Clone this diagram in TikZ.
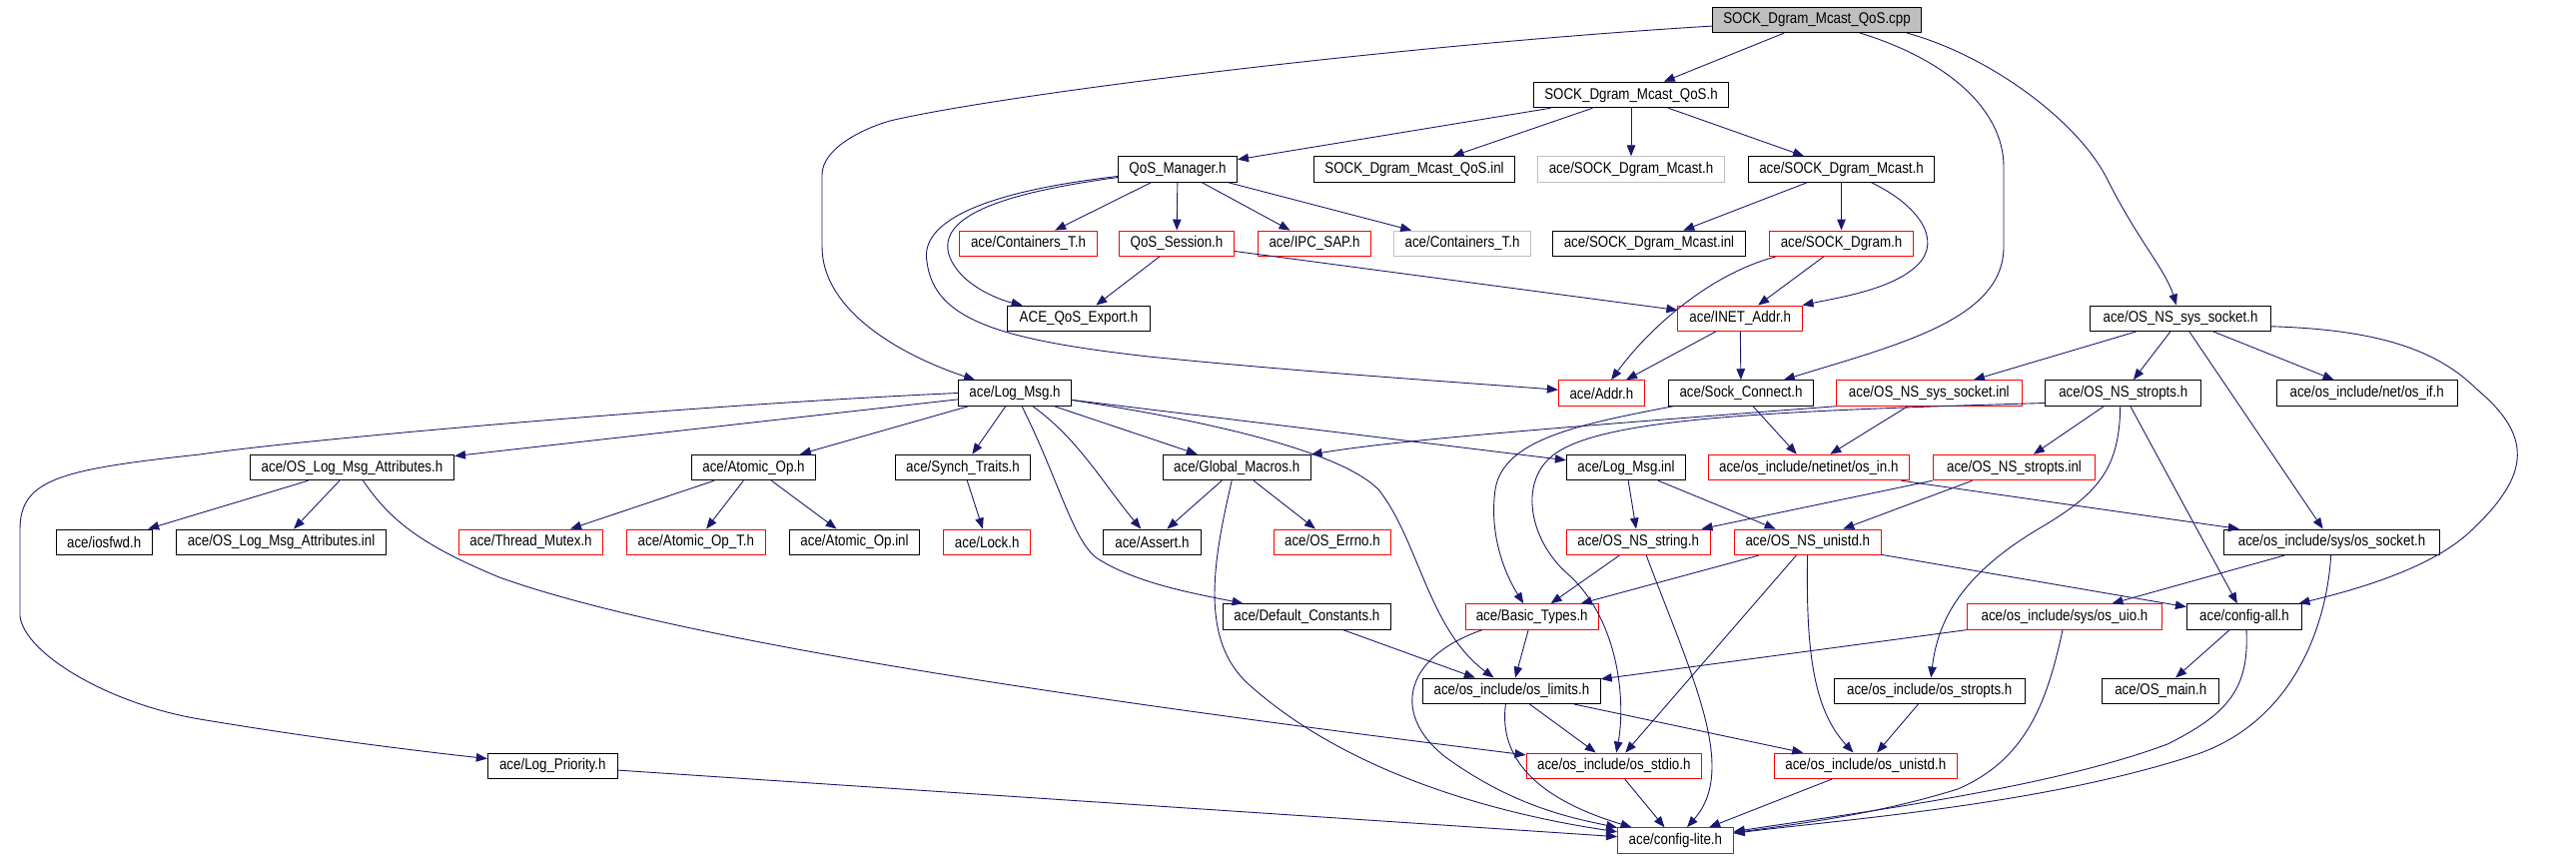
\documentclass[tikz,border=0pt]{standalone}
\usepackage{fontspec}
\setmainfont{Liberation Sans}[FakeStretch=0.86]
\usetikzlibrary{arrows.meta}
\definecolor{navy}{HTML}{191970}
\definecolor{lgray}{HTML}{BFBFBF}
\newcommand\nfont{\fontsize{15.5pt}{18pt}\selectfont}
\tikzset{
  nb/.style={draw=black, line width=1pt, minimum height=25.5pt, inner sep=0pt, font=\nfont},
  nr/.style={nb, draw=red},
  ng/.style={nb, draw=lgray},
  arr/.style={draw=navy, line width=0.9pt, -{Triangle[length=11pt,width=8.5pt]}},
}
\begin{document}
\begin{tikzpicture}[x=1pt,y=-1pt]
\useasboundingbox (0,0) rectangle (2579,859);
% row 0
\node[nb, fill=lgray, minimum width=209pt] (cpp) at (1819,19.8) {SOCK\_Dgram\_Mcast\_QoS.cpp};
% row 1
\node[nb, minimum width=195pt] (qosh) at (1633,95) {SOCK\_Dgram\_Mcast\_QoS.h};
% row 2
\node[nb, minimum width=119pt] (qosm) at (1179,169.5) {QoS\_Manager.h};
\node[nb, minimum width=201pt] (qosinl) at (1416,169.5) {SOCK\_Dgram\_Mcast\_QoS.inl};
\node[ng, minimum width=187pt] (dmg) at (1633,169.5) {ace/SOCK\_Dgram\_Mcast.h};
\node[nb, minimum width=186pt] (dm) at (1843.5,169.5) {ace/SOCK\_Dgram\_Mcast.h};
% row 3
\node[nr, minimum width=138.4pt] (contr) at (1029.5,243.8) {ace/Containers\_T.h};
\node[nr, minimum width=115pt] (sess) at (1178,243.8) {QoS\_Session.h};
\node[nr, minimum width=113pt] (ipc) at (1316,243.8) {ace/IPC\_SAP.h};
\node[ng, minimum width=137.5pt] (contg) at (1464,243.8) {ace/Containers\_T.h};
\node[nb, minimum width=192.4pt] (dminl) at (1651,243.8) {ace/SOCK\_Dgram\_Mcast.inl};
\node[nr, minimum width=144pt] (dgram) at (1843.5,243.8) {ace/SOCK\_Dgram.h};
% row 4
\node[nb, minimum width=143pt] (qexp) at (1080,318.8) {ACE\_QoS\_Export.h};
\node[nr, minimum width=124.6pt] (inet) at (1742.2,318.8) {ace/INET\_Addr.h};
\node[nb, minimum width=181.3pt] (nssock) at (2183,318.8) {ace/OS\_NS\_sys\_socket.h};
% row 5
\node[nb, minimum width=113pt] (logmsg) at (1016,393.5) {ace/Log\_Msg.h};
\node[nr, minimum width=86pt] (addr) at (1603.4,393.5) {ace/Addr.h};
\node[nb, minimum width=145.5pt] (sockc) at (1743,393.5) {ace/Sock\_Connect.h};
\node[nr, minimum width=185.7pt] (sockinl) at (1931.3,393.5) {ace/OS\_NS\_sys\_socket.inl};
\node[nb, minimum width=155.8pt] (nsstr) at (2125.7,393.5) {ace/OS\_NS\_stropts.h};
\node[nb, minimum width=181.3pt] (osif) at (2369.7,393.5) {ace/os\_include/net/os\_if.h};
% row 6
\node[nb, minimum width=204pt] (attr) at (352.5,468) {ace/OS\_Log\_Msg\_Attributes.h};
\node[nb, minimum width=124pt] (atomic) at (754.5,468) {ace/Atomic\_Op.h};
\node[nb, minimum width=135.3pt] (synch) at (964,468) {ace/Synch\_Traits.h};
\node[nb, minimum width=147.8pt] (glob) at (1238.2,468) {ace/Global\_Macros.h};
\node[nb, minimum width=119.2pt] (loginl) at (1628,468) {ace/Log\_Msg.inl};
\node[nr, minimum width=201pt] (osin) at (1810.8,468) {ace/os\_include/netinet/os\_in.h};
\node[nr, minimum width=161.6pt] (strinl) at (2016.5,468) {ace/OS\_NS\_stropts.inl};
% row 7
\node[nb, minimum width=96pt] (iosfwd) at (104.2,542.8) {ace/iosfwd.h};
\node[nb, minimum width=210.3pt] (attrinl) at (281.5,542.8) {ace/OS\_Log\_Msg\_Attributes.inl};
\node[nr, minimum width=144.2pt] (tmutex) at (531.5,542.8) {ace/Thread\_Mutex.h};
\node[nr, minimum width=139.3pt] (atomT) at (696.9,542.8) {ace/Atomic\_Op\_T.h};
\node[nb, minimum width=130pt] (atominl) at (855.5,542.8) {ace/Atomic\_Op.inl};
\node[nr, minimum width=87pt] (lock) at (988.2,542.8) {ace/Lock.h};
\node[nb, minimum width=97.8pt] (assert) at (1153.4,542.8) {ace/Assert.h};
\node[nr, minimum width=117pt] (errno) at (1333.9,542.8) {ace/OS\_Errno.h};
\node[nr, minimum width=143.8pt] (nsstring) at (1640.2,542.8) {ace/OS\_NS\_string.h};
\node[nr, minimum width=146.4pt] (nsunistd) at (1809.8,542.8) {ace/OS\_NS\_unistd.h};
\node[nb, minimum width=216.5pt] (ossocket) at (2334.6,542.8) {ace/os\_include/sys/os\_socket.h};
% row 8
\node[nb, minimum width=168pt] (defc) at (1308.4,617.5) {ace/Default\_Constants.h};
\node[nr, minimum width=132.6pt] (basic) at (1533.7,617.5) {ace/Basic\_Types.h};
\node[nr, minimum width=194.7pt] (uio) at (2067,617.5) {ace/os\_include/sys/os\_uio.h};
\node[nb, minimum width=115.2pt] (cfgall) at (2247,617.5) {ace/config-all.h};
% row 9
\node[nb, minimum width=177.6pt] (limits) at (1513.4,691.8) {ace/os\_include/os\_limits.h};
\node[nb, minimum width=191pt] (osstropts) at (1931.7,691.8) {ace/os\_include/os\_stropts.h};
\node[nb, minimum width=117.4pt] (osmain) at (2163.2,691.8) {ace/OS\_main.h};
% row 10
\node[nb, minimum width=130pt] (logprio) at (553.3,766.8) {ace/Log\_Priority.h};
\node[nr, minimum width=175.5pt] (stdio) at (1615.8,766.8) {ace/os\_include/os\_stdio.h};
\node[nr, minimum width=183pt] (osunistd) at (1867.8,766.8) {ace/os\_include/os\_unistd.h};
% row 11
\node[nr, minimum width=115.6pt] (cfglite) at (1677.4,841.5) {ace/config-lite.h};

% ---- edges ----
\draw[arr] (cpp) -- (qosh);
\draw[arr] (cpp) .. controls (1400,45) and (1000,95) .. (891,121) .. controls (860,130) and (823,150) .. (823,175) -- (823,247) .. controls (823,310) and (900,355) .. (logmsg);
\draw[arr] (cpp) .. controls (1950,60) and (2006,110) .. (2006,167) -- (2006,247) .. controls (2006,320) and (1900,345) .. (sockc);
\draw[arr] ([xshift=90pt]cpp.south) .. controls (1990,55) and (2080,120) .. (2110,180) .. controls (2140,240) and (2168,270) .. (nssock);

\draw[arr] (qosh) -- (qosm);
\draw[arr] (qosh) -- (qosinl);
\draw[arr] (qosh) -- (dmg);
\draw[arr] (qosh) -- (dm);

\draw[arr] (qosm) -- (contr);
\draw[arr] (qosm) -- (sess);
\draw[arr] (qosm) -- (ipc);
\draw[arr] (qosm) -- (contg);
\draw[arr] (qosm) .. controls (990,195) and (940,220) .. (950,255) .. controls (960,285) and (1000,300) .. (qexp);
\draw[arr] (qosm) .. controls (960,195) and (922,230) .. (928,262) .. controls (935,320) and (1000,340) .. (1150,357) .. controls (1300,372) and (1450,382) .. (addr);

\draw[arr] (sess) -- (qexp);
\draw[arr] (sess) -- (inet);

\draw[arr] (dm) -- (dminl);
\draw[arr] (dm) -- (dgram);
\draw[arr] ([xshift=30pt]dm.south) .. controls (1920,205) and (1945,240) .. (1920,265) .. controls (1895,290) and (1840,298) .. (inet);

\draw[arr] ([xshift=-66pt]dgram.south) .. controls (1710,275) and (1650,330) .. (addr);
\draw[arr] (dgram) -- (inet);

\draw[arr] (inet) -- (addr);
\draw[arr] (inet) -- (sockc);

\draw[arr] (sockc) -- (osin);
\draw[arr] ([xshift=-68pt]sockc.south) .. controls (1580,425) and (1505,440) .. (1497,490) .. controls (1490,540) and (1510,580) .. (basic);

\draw[arr] (sockinl) -- (osin);
\draw[arr] (sockinl.south west) .. controls (1600,425) and (1400,440) .. (glob);

\draw[arr] (logmsg) -- (attr);
\draw[arr] (logmsg.west) .. controls (700,405) and (300,440) .. (200,455) .. controls (60,470) and (20,480) .. (20,530) -- (20,617) .. controls (25,655) and (110,705) .. (200,720) .. controls (320,740) and (420,752) .. (logprio);
\draw[arr] (logmsg) -- (atomic);
\draw[arr] (logmsg) -- (synch);
\draw[arr] ([xshift=18pt]logmsg.south) .. controls (1080,440) and (1105,485) .. (assert);
\draw[arr] (logmsg) -- (glob);
\draw[arr] ([xshift=7pt]logmsg.south) .. controls (1060,480) and (1075,545) .. (1100,560) .. controls (1140,585) and (1200,595) .. (defc);
\draw[arr] (logmsg) -- (loginl);
\draw[arr] ([yshift=-7pt]logmsg.east) .. controls (1200,420) and (1340,450) .. (1380,490) .. controls (1420,540) and (1430,630) .. (limits);

\draw[arr] (glob) -- (assert);
\draw[arr] (glob) -- (errno);
\draw[arr] ([xshift=-5pt]glob.south) .. controls (1215,560) and (1200,640) .. (1250,685) .. controls (1350,775) and (1500,815) .. (cfglite);

\draw[arr] (atomic) -- (tmutex);
\draw[arr] (atomic) -- (atomT);
\draw[arr] (atomic) -- (atominl);
\draw[arr] (synch) -- (lock);

\draw[arr] (attr) -- (iosfwd);
\draw[arr] (attr) -- (attrinl);
\draw[arr] ([xshift=11pt]attr.south) .. controls (390,520) and (420,545) .. (500,578) .. controls (700,650) and (1200,715) .. (stdio);

\draw[arr] (logprio) -- (cfglite);
\draw[arr] (defc) -- (limits);
\draw[arr] (loginl) -- (nsstring);
\draw[arr] (loginl) -- (nsunistd);

\draw[arr] (nssock) -- (sockinl);
\draw[arr] (nssock) -- (nsstr);
\draw[arr] (nssock) -- (ossocket);
\draw[arr] (nssock) -- (osif);
\draw[arr] ([yshift=-8pt]nssock.east) .. controls (2380,330) and (2440,350) .. (2480,390) .. controls (2540,440) and (2530,480) .. (2470,535) .. controls (2430,570) and (2360,590) .. (cfgall);

\draw[arr] (nsstr) -- (strinl);
\draw[arr] ([xshift=-3pt]nsstr.south) .. controls (2122,470) and (2100,495) .. (2040,530) .. controls (1965,575) and (1940,620) .. (osstropts);
\draw[arr] (nsstr) -- (cfgall);
\draw[arr] ([yshift=-10pt]nsstr.west) .. controls (1750,412) and (1590,420) .. (1550,460) .. controls (1520,490) and (1535,545) .. (1570,575) .. controls (1620,620) and (1628,700) .. (stdio);

\draw[arr] ([xshift=-82pt]strinl.south) -- (nsstring);
\draw[arr] ([xshift=-42pt]strinl.south) -- (nsunistd);

\draw[arr] (osin) -- (ossocket);

\draw[arr] (nsstring) -- (basic);
\draw[arr] ([xshift=8pt]nsstring.south) .. controls (1695,680) and (1740,770) .. (cfglite);

\draw[arr] (nsunistd) -- (basic);
\draw[arr] (nsunistd) -- (stdio);
\draw[arr] (nsunistd) .. controls (1808,650) and (1815,710) .. (osunistd);
\draw[arr] (nsunistd) -- (cfgall);

\draw[arr] (ossocket) -- (uio);
\draw[arr] ([xshift=-1pt]ossocket.south) .. controls (2330,620) and (2300,720) .. (2200,755) .. controls (2050,805) and (1850,820) .. (cfglite);

\draw[arr] (basic) -- (limits);
\draw[arr] ([xshift=-50pt]basic.south) .. controls (1400,660) and (1395,720) .. (1450,760) .. controls (1520,810) and (1580,820) .. (cfglite);

\draw[arr] (uio) -- (limits);
\draw[arr] ([xshift=-2pt]uio.south) .. controls (2050,700) and (2030,760) .. (1960,790) .. controls (1880,815) and (1800,825) .. (cfglite);

\draw[arr] (cfgall) -- (osmain);
\draw[arr] ([xshift=2pt]cfgall.south) .. controls (2252,690) and (2230,715) .. (2170,745) .. controls (2050,790) and (1850,815) .. (cfglite);

\draw[arr] (limits) -- (stdio);
\draw[arr] (limits) -- (osunistd);
\draw[arr] ([xshift=-6pt]limits.south) .. controls (1500,760) and (1540,800) .. (cfglite);

\draw[arr] (stdio) -- (cfglite);
\draw[arr] (osunistd) -- (cfglite);
\draw[arr] (osstropts) -- (osunistd);
\end{tikzpicture}
\end{document}
